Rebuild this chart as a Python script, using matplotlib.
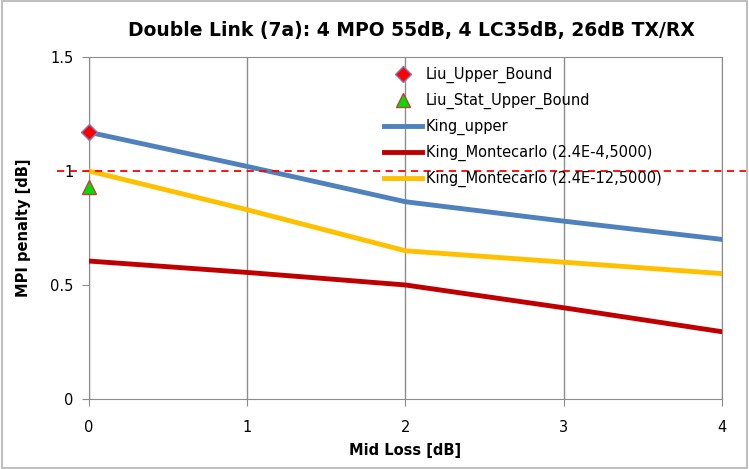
import matplotlib
matplotlib.use('Agg')
import matplotlib.pyplot as plt
from matplotlib.patches import Rectangle

mid_loss = [0, 1, 2, 3, 4]
king_upper = [1.17, 1.02, 0.865, 0.78, 0.70]
king_mc_4 = [0.605, 0.555, 0.50, 0.40, 0.295]
king_mc_12 = [1.0, 0.83, 0.65, 0.60, 0.55]
liu_x = [0]
liu_upper = [1.17]
liu_stat = [0.93]
limit = 1.0

plt.rcParams['font.family'] = ['DejaVu Sans']

fig = plt.figure(figsize=(7.49, 4.69), dpi=100)
fig.patches.append(Rectangle((0.003, 0.003), 0.994, 0.994, transform=fig.transFigure,
                             fill=False, edgecolor='#bfbfbf', linewidth=1.5))
ax = fig.add_axes([0.1188, 0.1493, 0.8451, 0.7292])

ax.plot(mid_loss, king_upper, color='#4f81bd', lw=3.5, label='King_upper', zorder=3)
ax.plot(mid_loss, king_mc_4, color='#c00000', lw=3.5, label='King_Montecarlo (2.4E-4,5000)', zorder=3)
ax.plot(mid_loss, king_mc_12, color='#ffc000', lw=3.5, label='King_Montecarlo (2.4E-12,5000)', zorder=3)
ax.plot(liu_x, liu_upper, 'D', color='#ff0000', mec='#7f7fbf', ms=8, label='Liu_Upper_Bound',
        clip_on=False, zorder=5)
ax.plot(liu_x, liu_stat, '^', color='#00e000', mec='#c04040', ms=10, label='Liu_Stat_Upper_Bound',
        clip_on=False, zorder=5)

# dashed limit at 1 dB, running past the plot area to the figure edge
ax.plot([-0.2, 4.3], [limit, limit], '--', color='#ff0000', lw=1.3, clip_on=False, zorder=4,
        dashes=(4, 3))

ax.set_xlim(0, 4)
ax.set_ylim(0, 1.5)
ax.set_xticks([0, 1, 2, 3, 4])
ax.set_yticks([0, 0.5, 1, 1.5])
ax.set_yticklabels(['0', '0.5', '1', '1.5'])
ax.grid(axis='x', color='#8c8c8c', lw=1)
for s in ax.spines.values():
    s.set_color('#8c8c8c')
ax.tick_params(colors='#8c8c8c', labelcolor='black', labelsize=10.5, length=5, direction='out')
ax.tick_params(axis='x', pad=10)
ax.tick_params(axis='y', pad=6)

ax.set_xlabel('Mid Loss [dB]', fontsize=10.5, fontweight='bold', labelpad=6)
ax.set_ylabel('MPI penalty [dB]', fontsize=10.5, fontweight='bold', labelpad=14)
fig.text(0.549, 0.935, 'Double Link (7a): 4 MPO 55dB, 4 LC35dB, 26dB TX/RX', ha='center',
         va='center', fontsize=13.5, fontweight='bold')

h, l = ax.get_legend_handles_labels()
order = [3, 4, 0, 1, 2]
ax.legend([h[i] for i in order], [l[i] for i in order], loc='upper left',
          bbox_to_anchor=(0.445, 1.01), frameon=False, fontsize=10.5, handlelength=2.6,
          handletextpad=0.3, labelspacing=0.68)

fig.savefig('out.png', dpi=100)
